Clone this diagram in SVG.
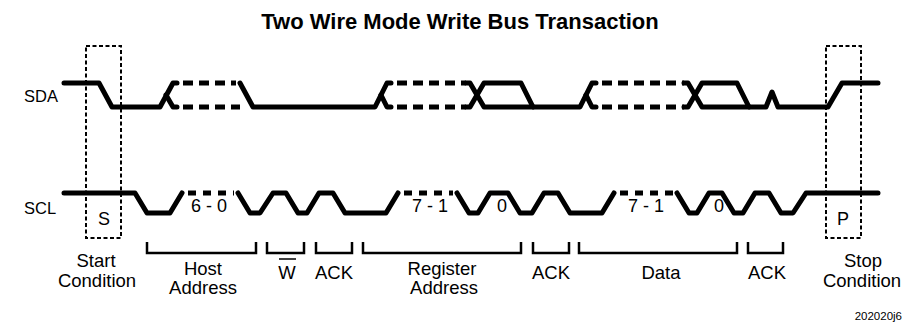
<svg xmlns="http://www.w3.org/2000/svg" width="905" height="328" viewBox="0 0 905 328">
<style>
.sig{fill:none;stroke:#000;stroke-width:5;stroke-linejoin:round;stroke-linecap:round}
.dsh{fill:none;stroke:#000;stroke-width:5;stroke-dasharray:10 6}
.dshc{fill:none;stroke:#000;stroke-width:5;stroke-dasharray:8 7}
.box{fill:none;stroke:#000;stroke-width:2;stroke-dasharray:4 2.5}
.br{fill:none;stroke:#000;stroke-width:2.5}
text{font-family:"Liberation Sans",Arial,sans-serif;fill:#000}
.lab{font-size:18.5px;text-anchor:middle}
.sig-name{font-size:16.5px}
.bit{font-size:18px;text-anchor:middle}
</style>
<rect width="905" height="328" fill="#fff"/>
<text x="460" y="29" font-size="22" font-weight="bold" text-anchor="middle">Two Wire Mode Write Bus Transaction</text>
<g id="labels">
<text class="sig-name" x="24" y="102">SDA</text>
<text class="sig-name" x="24" y="214">SCL</text>
</g>
<g id="connectors">
<g id="sda">
<path class="sig" d="M64,83 L99,83 L112,107 L160,107 L173,83 L177,83"/>
<path class="sig" d="M166,95 L173,107 L177,107"/>
<path class="dsh" d="M183,83 L236,83"/>
<path class="dsh" d="M183,107 L240,107"/>
<path class="sig" d="M240,83 L253,107 L375,107 L387,83 L391,83"/>
<path class="sig" d="M381,95 L387,107 L391,107"/>
<path class="dsh" d="M397,83 L466,83"/>
<path class="dsh" d="M397,107 L466,107"/>
<path class="sig" d="M466,83 L470,83 L484,107 L580,107 L592,83 L596,83"/>
<path class="sig" d="M466,107 L470,107 L484,83 L521,83 L533,107"/>
<path class="sig" d="M586,95 L592,107 L596,107"/>
<path class="dsh" d="M602,83 L684,83"/>
<path class="dsh" d="M602,107 L684,107"/>
<path class="sig" d="M684,83 L688,83 L702,107 L766,107 L772,92 L778,107 L828,107 L842,83 L878,83"/>
<path class="sig" d="M684,107 L688,107 L702,83 L737,83 L749,107"/>
</g>
<g id="scl">
<path class="sig" d="M64,193 L135,193 L147,213 L170,213 L182,193"/>
<path class="dshc" d="M188,193 L234,193"/>
<path class="sig" d="M238,193 L250,213 L260,213 L273,193 L286,193 L298,213 L307,213 L319,193 L333,193 L345,213 L386,213 L398,193"/>
<path class="dshc" d="M404,193 L453,193"/>
<path class="sig" d="M457,193 L469,213 L478,213 L490,193 L508,193 L520,213 L532,213 L544,193 L558,193 L570,213 L602,213 L614,193"/>
<path class="dshc" d="M620,193 L673,193"/>
<path class="sig" d="M677,193 L689,213 L697,213 L709,193 L722,193 L734,213 L743,213 L755,193 L769,193 L781,213 L793,213 L806,193 L878,193"/>
</g>
</g>
<g id="start-condition">
<rect class="box" x="86" y="46" width="35" height="192"/>
<text class="bit" x="104" y="225">S</text>
<text class="lab" x="96" y="267">Start</text>
<text class="lab" x="97" y="287">Condition</text>
</g>
<g id="stop-condition">
<rect class="box" x="826" y="46" width="35" height="192"/>
<text class="bit" x="843" y="225">P</text>
<text class="lab" x="863" y="267">Stop</text>
<text class="lab" x="862" y="287">Condition</text>
</g>
<g id="bits">
<text class="bit" x="209" y="212">6 - 0</text>
<text class="bit" x="430" y="212">7 - 1</text>
<text class="bit" x="502" y="212">0</text>
<text class="bit" x="646" y="212">7 - 1</text>
<text class="bit" x="719" y="212">0</text>
</g>
<g id="host-address">
<path class="br" d="M147,242 L147,253 L256,253 L256,242"/>
<text class="lab" x="203" y="275">Host</text>
<text class="lab" x="203" y="294">Address</text>
</g>
<g id="write-bit">
<path class="br" d="M267,242 L267,253 L304,253 L304,242"/>
<text class="lab" x="287" y="279">W</text>
<line x1="279" y1="259" x2="296" y2="259" stroke="#000" stroke-width="1.5"/>
</g>
<g id="ack1">
<path class="br" d="M316,242 L316,253 L352,253 L352,242"/>
<text class="lab" x="334" y="279">ACK</text>
</g>
<g id="register-address">
<path class="br" d="M363,242 L363,253 L521,253 L521,242"/>
<text class="lab" x="442" y="275">Register</text>
<text class="lab" x="444" y="294">Address</text>
</g>
<g id="ack2">
<path class="br" d="M533,242 L533,253 L569,253 L569,242"/>
<text class="lab" x="551" y="279">ACK</text>
</g>
<g id="data">
<path class="br" d="M579,242 L579,253 L737,253 L737,242"/>
<text class="lab" x="661" y="279">Data</text>
</g>
<g id="ack3">
<path class="br" d="M748,242 L748,253 L783,253 L783,242"/>
<text class="lab" x="767" y="279">ACK</text>
</g>
<text x="902" y="320" font-size="11.5" text-anchor="end">202020j6</text>
</svg>
